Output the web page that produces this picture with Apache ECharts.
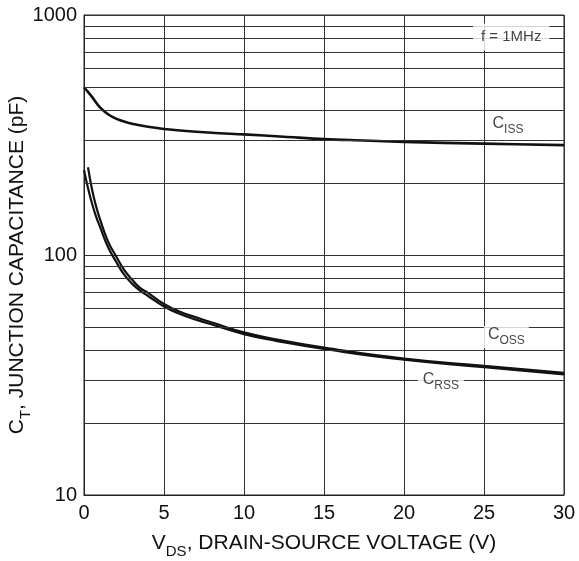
<!DOCTYPE html>
<html><head><meta charset="utf-8">
<script src="https://cdn.jsdelivr.net/npm/echarts@6/dist/echarts.min.js"></script>
<style>html,body{margin:0;padding:0;background:#fff}#c{width:579px;height:561px}</style>
</head><body><div id="c"></div>
<script>
// ---- data ----
const cissV = [0, 0.25, 0.5, 1, 1.5, 2, 2.5, 3, 4, 5, 6, 8, 10, 12.5, 15, 17.5, 20, 25, 30];
const cissC = [500, 478, 456, 412, 386, 370, 360, 352, 342, 335, 330, 323, 318, 311, 304, 300, 296, 291, 287];
const cossV = [0.25, 0.5, 0.75, 1, 1.5, 2, 2.5, 3, 3.5, 4, 5, 6, 7, 8, 10, 12, 15, 20, 25, 30];
const cossC = [232, 188, 160, 141, 114, 99, 87, 79, 73, 69.5, 62.5, 58, 55, 52.3, 47.6, 44.5, 41.1, 37, 34.5, 32.3];
const crssV = [0, 0.25, 0.5, 0.75, 1, 1.5, 2, 2.5, 3, 3.5, 4, 5, 6, 7, 8, 10, 12, 15, 20, 25, 30];
const crssC = [226, 190, 164, 145, 131, 108, 94, 83, 76, 71, 67.5, 61, 56.8, 53.8, 51.3, 46.8, 43.9, 40.6, 36.6, 34.1, 31.8];
const minorGridValues = [20, 30, 40, 50, 60, 70, 80, 90, 200, 300, 400, 500, 600, 700, 800, 900];
const xTickValues = [0, 5, 10, 15, 20, 25, 30];
const yTickValues = [10, 100, 1000];

const zip = (a, b) => a.map((v, i) => [v, b[i]]);
const FONT = '"Liberation Sans", Arial, sans-serif';
const subRich = {
  c: {fontSize: 16, fontFamily: FONT, color: '#111', lineHeight: 20, verticalAlign: 'top'},
  s: {fontSize: 12, fontFamily: FONT, color: '#111', lineHeight: 20, verticalAlign: 'bottom'},
  f: {fontSize: 15, fontFamily: FONT, color: '#111'}
};
function note(x, y, text, bg, pad) {
  return {
    value: [x, y],
    label: {show: true, position: 'inside', formatter: text, rich: subRich,
      fontFamily: FONT, fontSize: 15, color: '#111',
      backgroundColor: bg ? '#fff' : 'transparent', padding: pad || [2, 3]}
  };
}

const chart = echarts.init(document.getElementById('c'), null, {renderer: 'canvas'});
chart.setOption({
  animation: false,
  backgroundColor: '#fff',
  grid: {left: 84, top: 15, width: 480, height: 480, containLabel: false, outerBoundsMode: 'none',
    show: true, borderColor: '#222', borderWidth: 1, backgroundColor: 'transparent'},
  xAxis: {
    type: 'value', min: 0, max: 30, interval: 5,
    name: '{v|V}{d|DS}{v|, DRAIN-SOURCE VOLTAGE (V)}',
    nameLocation: 'middle', nameGap: 38, nameMoveOverlap: false,
    nameTextStyle: {rich: {
      v: {fontSize: 21, fontFamily: FONT, color: '#111', lineHeight: 26, verticalAlign: 'top'},
      d: {fontSize: 15, fontFamily: FONT, color: '#111', lineHeight: 26, verticalAlign: 'bottom'}}},
    axisLine: {show: true, lineStyle: {color: '#222', width: 1}},
    axisTick: {show: false},
    axisLabel: {fontSize: 20, fontFamily: FONT, color: '#111', margin: 8,
      formatter: v => xTickValues.includes(v) ? String(v) : ''},
    splitLine: {show: true, lineStyle: {color: '#333', width: 1}}
  },
  yAxis: {
    type: 'log', logBase: 10, min: 10, max: 1000,
    name: '{c|C}{t|T}{c|, JUNCTION CAPACITANCE (pF)}',
    nameLocation: 'middle', nameGap: 51, nameRotate: 90, nameMoveOverlap: false,
    nameTextStyle: {padding: [0, 20, 0, 0], rich: {
      c: {fontSize: 21, fontFamily: FONT, color: '#111', lineHeight: 26, verticalAlign: 'top'},
      t: {fontSize: 15, fontFamily: FONT, color: '#111', lineHeight: 26, verticalAlign: 'bottom'}}},
    axisLine: {show: true, lineStyle: {color: '#222', width: 1}},
    axisTick: {show: false},
    axisLabel: {fontSize: 20, fontFamily: FONT, color: '#111', margin: 7,
      formatter: v => yTickValues.some(t => Math.abs(t - v) < 1e-6) ? String(Math.round(v)) : ''},
    splitLine: {show: true, lineStyle: {color: '#333', width: 1}}
  },
  series: [
    {
      name: 'grid', type: 'line', data: [[0, 10]], symbol: 'none', z: 1,
      lineStyle: {width: 0}, silent: true,
      markLine: {silent: true, symbol: ['none', 'none'], animation: false,
        label: {show: false}, lineStyle: {type: 'solid', color: '#333', width: 1},
        data: minorGridValues.map(v => ({yAxis: v}))}
    },
    {name: 'CISS', type: 'line', data: zip(cissV, cissC), smooth: 0.35, symbol: 'none', z: 3,
      lineStyle: {color: '#111', width: 2.6}},
    {name: 'COSS', type: 'line', data: zip(cossV, cossC), smooth: true, symbol: 'none', z: 3,
      lineStyle: {color: '#111', width: 2.2}},
    {name: 'CRSS', type: 'line', data: zip(crssV, crssC), smooth: true, symbol: 'none', z: 3,
      lineStyle: {color: '#111', width: 2.2}},
    {
      name: 'labels', type: 'scatter', z: 5, silent: true,
      symbol: 'circle', symbolSize: 1, itemStyle: {color: 'rgba(0,0,0,0)'},
      data: [
        note(26.7, 810, '{f|f = 1MHz}', true, [6, 8]),
        note(26.5, 345, '{c|C}{s|ISS}', false),
        note(26.4, 45.5, '{c|C}{s|OSS}', true, [1, 4]),
        note(22.3, 29.6, '{c|C}{s|RSS}', true, [1, 5])
      ]
    }
  ]
});
</script></body></html>
